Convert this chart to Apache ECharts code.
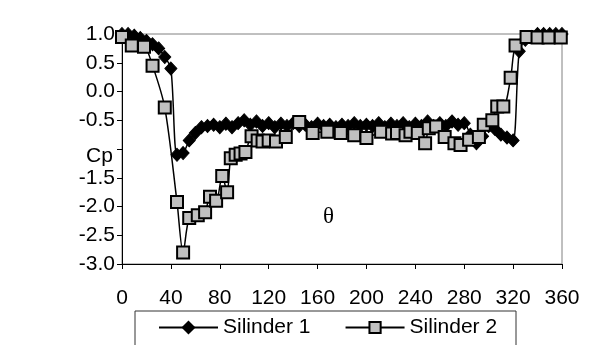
<!DOCTYPE html>
<html><head><meta charset="utf-8">
<script src="https://cdn.jsdelivr.net/npm/echarts@6/dist/echarts.min.js"></script>
<style>html,body{margin:0;padding:0;background:#fff}#c{width:610px;height:362px}</style>
</head><body><div id="c"></div>
<script>
var xTicks = [0,40,80,120,160,200,240,280,320,360];
var yTicks = [-3.0,-2.5,-2.0,-1.5,-1.0,-0.5,0.0,0.5,1.0];
var seriesNames = ['Silinder 1','Silinder 2'];
var angle1 = [0,5,10,15,20,25,30,35,40,45,50,55,60,65,70,75,80,85,90,95,100,105,110,115,120,125,130,135,140,145,150,155,160,165,170,175,180,185,190,195,200,205,210,215,220,225,230,235,240,245,250,255,260,265,270,275,280,285,290,295,300,305,310,315,320,325,330,335,340,345,350,355,360];
var cp1 = [1.0,1.0,0.97,0.93,0.88,0.82,0.75,0.6,0.4,-1.1,-1.07,-0.85,-0.72,-0.62,-0.6,-0.58,-0.62,-0.56,-0.62,-0.55,-0.5,-0.58,-0.52,-0.6,-0.55,-0.62,-0.56,-0.6,-0.55,-0.6,-0.58,-0.62,-0.56,-0.6,-0.58,-0.62,-0.58,-0.6,-0.55,-0.6,-0.58,-0.6,-0.55,-0.62,-0.56,-0.6,-0.55,-0.62,-0.56,-0.6,-0.52,-0.6,-0.55,-0.6,-0.52,-0.58,-0.55,-0.75,-0.9,-0.78,-0.6,-0.65,-0.75,-0.8,-0.85,0.7,0.9,0.95,1.0,1.0,1.0,1.0,1.0];
var angle2 = [0,8,18,25,35,45,50,55,62,68,72,77,82,86,89,93,97,101,106,111,115,120,126,134,145,156,168,179,190,200,212,221,225,232,236,242,248,251,257,264,272,277,284,292,296,303,307,312,318,322,331,340,349,359];
var cp2 = [0.95,0.8,0.78,0.45,-0.28,-1.92,-2.8,-2.2,-2.15,-2.1,-1.83,-1.9,-1.47,-1.75,-1.16,-1.1,-1.08,-1.05,-0.78,-0.85,-0.87,-0.85,-0.87,-0.79,-0.53,-0.72,-0.7,-0.72,-0.76,-0.81,-0.7,-0.73,-0.72,-0.76,-0.7,-0.72,-0.9,-0.64,-0.61,-0.79,-0.9,-0.93,-0.84,-0.79,-0.58,-0.5,-0.26,-0.26,0.24,0.8,0.95,0.94,0.94,0.94];

function pairs(xs, ys){ return xs.map(function(x,i){ return [x, ys[i]]; }); }
var FONT = 'Liberation Sans, Arial, sans-serif';
var chart = echarts.init(document.getElementById('c'), null, {renderer:'canvas'});
chart.setOption({
  animation: false,
  backgroundColor: '#fff',
  grid: {left:122, right:48, top:34, bottom:98, show:true, borderColor:'#808080', borderWidth:1, backgroundColor:'transparent'},
  xAxis: {type:'value', min:xTicks[0], max:xTicks[xTicks.length-1], interval:40,
    axisLine:{onZero:false, lineStyle:{color:'#000', width:1}}, axisTick:{show:true, length:5, lineStyle:{color:'#000'}},
    splitLine:{show:false}, axisLabel:{color:'#000', fontSize:21, fontFamily:FONT, margin:24}},
  yAxis: {type:'value', min:yTicks[0], max:yTicks[yTicks.length-1], interval:0.5,
    axisLine:{show:true, onZero:false, lineStyle:{color:'#000', width:1}}, axisTick:{show:true, length:5, lineStyle:{color:'#000'}},
    splitLine:{show:false}, axisLabel:{color:'#000', fontSize:21, fontFamily:FONT, margin:7, formatter:function(v){return v.toFixed(1);}}},
  legend: {left:153, top:312, itemWidth:59, itemHeight:14, itemGap:34,
    textStyle:{color:'#000', fontSize:21, fontFamily:FONT},
    data:seriesNames},
  graphic: [
    {type:'polyline', shape:{points:[[135,345],[135,311],[516,311],[516,345]]}, style:{stroke:'#333', lineWidth:1, fill:null}, z:1},
    {type:'rect', shape:{x:76, y:136, width:40, height:32}, style:{fill:'#fff'}, z:99},
    {type:'text', left:86, top:146, style:{text:'Cp', fontSize:21, fontFamily:FONT, fill:'#000'}, z:100},
    {type:'text', left:323, top:205, style:{text:'θ', fontSize:23, fontFamily:'Liberation Serif, serif', fill:'#000'}, z:100}
  ],
  series: [
    {name:seriesNames[0], type:'line', data:pairs(angle1, cp1), smooth:0.3, symbol:'diamond', symbolSize:[12,13],
      lineStyle:{color:'#000', width:1.5}, itemStyle:{color:'#000', borderColor:'#000', borderWidth:1}, z:3},
    {name:seriesNames[1], type:'line', data:pairs(angle2, cp2), smooth:0.3, symbol:'rect', symbolSize:12,
      lineStyle:{color:'#000', width:1.5}, itemStyle:{color:'#c0c0c0', borderColor:'#000', borderWidth:2}, z:4}
  ]
});
</script></body></html>
